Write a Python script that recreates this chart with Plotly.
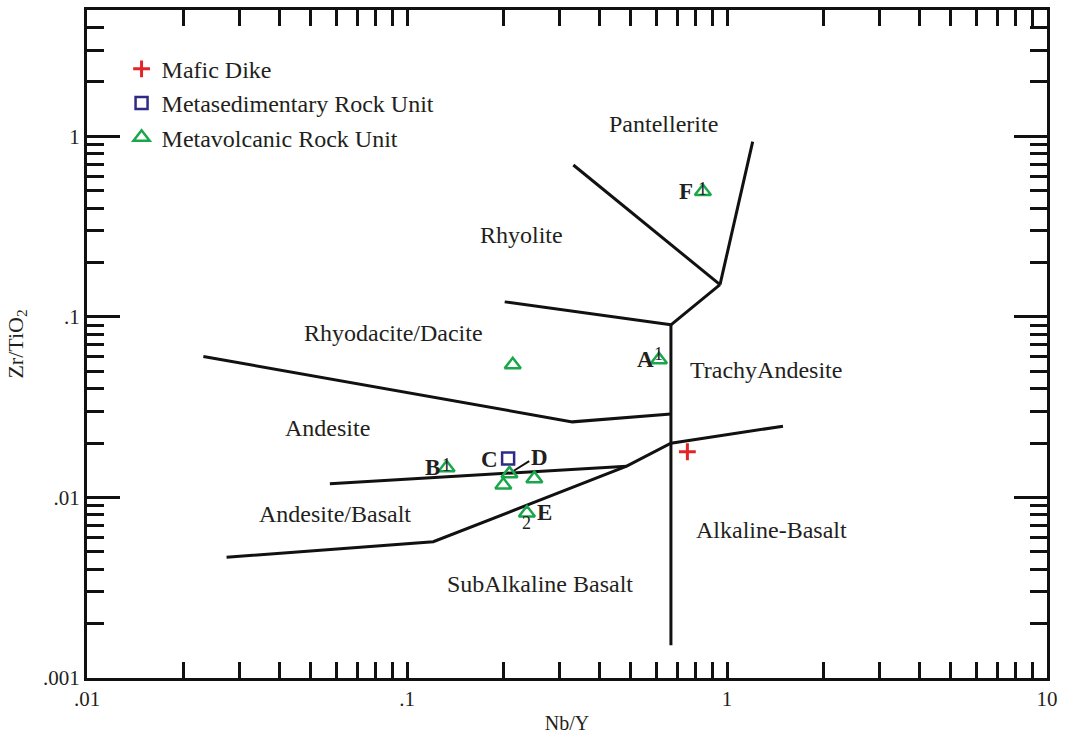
import plotly.graph_objects as go

# ---------------- data ----------------
mafic_x = [0.752]
mafic_y = [0.0179]

metased_x = [0.207]
metased_y = [0.0164]

metavol_x = [0.841, 0.613, 0.214, 0.133, 0.209, 0.200, 0.250, 0.237]
metavol_y = [0.494, 0.0578, 0.0542, 0.0146, 0.0135, 0.0117, 0.0127, 0.0082]

# field boundaries (Nb/Y, Zr/TiO2)
pant_rhy_x = [0.331, 0.951]
pant_rhy_y = [0.693, 0.1507]
pant_right_x = [0.951, 1.203]
pant_right_y = [0.1507, 0.933]
rhy_trachy_x = [0.951, 0.668]
rhy_trachy_y = [0.1507, 0.0903]
rhy_rhyodac_x = [0.202, 0.668]
rhy_rhyodac_y = [0.121, 0.0903]
alk_vert_x = [0.668, 0.668]
alk_vert_y = [0.0903, 0.00152]
rhyodac_and_x = [0.0231, 0.3286, 0.668]
rhyodac_and_y = [0.0603, 0.0262, 0.029]
and_andbas_x = [0.0574, 0.486]
and_andbas_y = [0.0119, 0.0149]
subalk_x = [0.0273, 0.1208, 0.486, 0.668, 1.496]
subalk_y = [0.00466, 0.00568, 0.0149, 0.01995, 0.0248]
d_leader_x = [0.215, 0.241]
d_leader_y = [0.0140, 0.0159]

x_tickvals = [0.01, 0.1, 1, 10]
x_ticktext = [".01", ".1", "1", "10"]
y_tickvals = [0.001, 0.01, 0.1, 1]
y_ticktext = [".001", ".01", ".1", "1"]

field_labels = ["Pantellerite", "Rhyolite", "Rhyodacite/Dacite", "TrachyAndesite",
                "Andesite", "Andesite/Basalt", "Alkaline-Basalt", "SubAlkaline Basalt"]
field_lx = [-0.197, -0.641, -1.041, 0.122, -1.247, -1.225, 0.1406, -0.584]
field_ly = [0.069, -0.548, -1.088, -1.292, -1.617, -2.091, -2.179, -2.482]

pt_labels = ["F", "A", "B", "C", "D", "E"]
pt_lx = [-0.128, -0.256, -0.919, -0.741, -0.5875, -0.569]
pt_ly = [-0.306, -1.237, -1.832, -1.788, -1.777, -2.085]

sup_labels = ["1", "1", "1", "2"]
sup_lx = [-0.076, -0.2135, -0.876, -0.628]
sup_ly = [-0.290, -1.205, -1.822, -2.140]

FONT = "Liberation Serif"
INK = "#231f20"

fig = go.Figure()

boundaries = [
    (pant_rhy_x, pant_rhy_y), (pant_right_x, pant_right_y), (rhy_trachy_x, rhy_trachy_y),
    (rhy_rhyodac_x, rhy_rhyodac_y), (alk_vert_x, alk_vert_y), (rhyodac_and_x, rhyodac_and_y),
    (and_andbas_x, and_andbas_y), (subalk_x, subalk_y),
]
for bx, by in boundaries:
    fig.add_trace(go.Scatter(x=bx, y=by, mode="lines", line=dict(color="#111111", width=3),
                             showlegend=False, hoverinfo="skip"))
fig.add_trace(go.Scatter(x=d_leader_x, y=d_leader_y, mode="lines",
                         line=dict(color="#111111", width=2), showlegend=False, hoverinfo="skip"))

fig.add_trace(go.Scatter(x=mafic_x, y=mafic_y, mode="markers", name="Mafic Dike", legendgroup="a",
                         marker=dict(symbol="cross-thin", size=12, line=dict(color="#e3242b", width=3),
                                     color="#e3242b")))
fig.add_trace(go.Scatter(x=metased_x, y=metased_y, mode="markers", name="Metasedimentary Rock Unit",
                         legendgroup="b",
                         marker=dict(symbol="square-open", size=12, color="#2e2a85",
                                     line=dict(color="#2e2a85", width=2.5))))
fig.add_trace(go.Scatter(x=metavol_x, y=metavol_y, mode="markers", name="Metavolcanic Rock Unit",
                         legendgroup="c",
                         marker=dict(symbol="triangle-up-open", size=14, color="#1aa64b",
                                     line=dict(color="#1aa64b", width=2.5))))

annotations = []
for t, lx, ly in zip(field_labels, field_lx, field_ly):
    annotations.append(dict(x=lx, y=ly, xref="x", yref="y", text=t, showarrow=False,
                            font=dict(family=FONT, size=24, color=INK)))
for t, lx, ly in zip(pt_labels, pt_lx, pt_ly):
    annotations.append(dict(x=lx, y=ly, xref="x", yref="y", text="<b>" + t + "</b>", showarrow=False,
                            font=dict(family=FONT, size=23, color=INK)))
for t, lx, ly in zip(sup_labels, sup_lx, sup_ly):
    annotations.append(dict(x=lx, y=ly, xref="x", yref="y", text=t, showarrow=False,
                            font=dict(family=FONT, size=18, color=INK)))

axis_common = dict(
    type="log", showgrid=False, zeroline=False, showline=True, linecolor="#111111", linewidth=3,
    mirror="allticks", ticks="inside", tickcolor="#111111", tickwidth=3,
    tickfont=dict(family=FONT, size=21, color=INK),
)

fig.update_layout(
    width=1068, height=741,
    margin=dict(l=87, r=21, t=7, b=63),
    plot_bgcolor="white", paper_bgcolor="white",
    font=dict(family=FONT, size=19, color=INK),
    xaxis=dict(axis_common, range=[-2, 1], tickvals=x_tickvals, ticktext=x_ticktext, ticklen=16,
               minor=dict(ticks="inside", ticklen=16, tickwidth=3, tickcolor="#111111",
                          tickvals=[m * 10 ** e for e in (-2, -1, 0) for m in range(2, 10)]),
               title=dict(text="Nb/Y", font=dict(family=FONT, size=20), standoff=6)),
    yaxis=dict(axis_common, range=[-3, 0.699], tickvals=y_tickvals, ticktext=y_ticktext, ticklen=33,
               minor=dict(ticks="inside", ticklen=17, tickwidth=3, tickcolor="#111111",
                          tickvals=[m * 10 ** e for e in (-3, -2, -1, 0) for m in range(2, 10)]),
               title=dict(text="Zr/TiO<sub>2</sub>", font=dict(family=FONT, size=22), standoff=14)),
    legend=dict(x=0.036, y=0.945, xanchor="left", yanchor="top", bgcolor="rgba(0,0,0,0)",
                font=dict(family=FONT, size=24, color=INK), tracegroupgap=0,
                itemsizing="trace"),
    annotations=annotations,
)

fig.write_html("out.html")
